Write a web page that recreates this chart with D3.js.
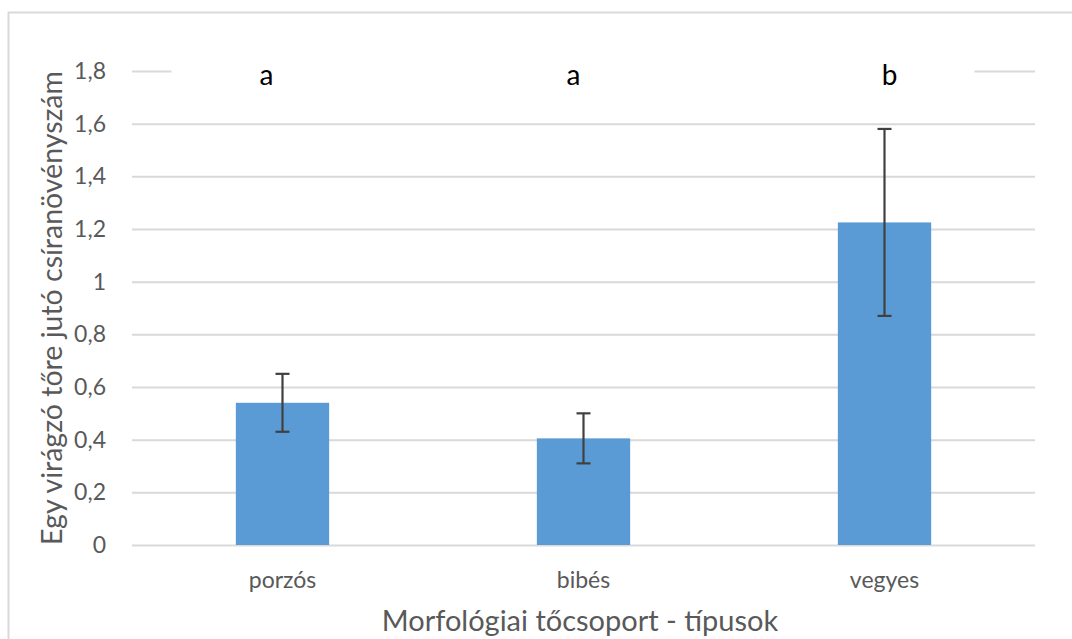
<!DOCTYPE html>
<html>
<head>
<meta charset="utf-8">
<script src="https://cdn.jsdelivr.net/npm/d3@7"></script>
<style>
  body { margin: 0; background: #fff; }
  text { font-family: Lato, "Open Sans", sans-serif; }
</style>
</head>
<body>
<div id="chart"></div>
<script>
const categories = ["porzós", "bibés", "vegyes"];
const means = [0.54, 0.405, 1.225];
const errors = [0.11, 0.095, 0.355];
const groupLetters = ["a", "a", "b"];
const yTicks = [0, 0.2, 0.4, 0.6, 0.8, 1, 1.2, 1.4, 1.6, 1.8];

const W = 1072, H = 639;
const margin = {top: 71, right: 37, bottom: 94, left: 132};

const svg = d3.select("#chart").append("svg")
  .attr("width", W)
  .attr("height", H);

// chart area frame (only top and left edges are visible in the crop)
svg.append("rect")
  .attr("x", 8.5).attr("y", 12.5)
  .attr("width", W + 20).attr("height", H + 20)
  .attr("fill", "#fff")
  .attr("stroke", "#d9d9d9")
  .attr("stroke-width", 2);

const x = d3.scaleBand()
  .domain(categories)
  .range([margin.left, W - margin.right])
  .paddingInner(0.69)
  .paddingOuter(0.345);

const y = d3.scaleLinear()
  .domain([0, 1.8])
  .range([H - margin.bottom, margin.top]);

const fmt = d => String(d).replace(".", ",");

// gridlines
svg.append("g")
  .attr("class", "grid")
  .attr("transform", "translate(" + margin.left + ",0)")
  .call(d3.axisRight(y).tickValues(yTicks).tickSize(W - margin.right - margin.left).tickFormat(""))
  .call(g => g.select(".domain").remove())
  .call(g => g.selectAll(".tick line").attr("stroke", "#d9d9d9").attr("stroke-width", 2));

// y tick labels
svg.append("g")
  .attr("transform", "translate(" + margin.left + ",0)")
  .call(d3.axisLeft(y).tickValues(yTicks).tickSize(0).tickPadding(26).tickFormat(fmt))
  .call(g => g.select(".domain").remove())
  .call(g => g.selectAll("text")
    .attr("fill", "#595959")
    .style("font-size", "23px")
    .style("font-family", "Lato, sans-serif"));

// bars
svg.append("g")
  .selectAll("rect")
  .data(categories)
  .enter()
  .append("rect")
  .attr("x", d => x(d))
  .attr("y", (d, i) => y(means[i]))
  .attr("width", x.bandwidth())
  .attr("height", (d, i) => y(0) - y(means[i]))
  .attr("fill", "#5b9bd5");

// error bars
const eb = svg.append("g")
  .attr("stroke", "#404040")
  .attr("stroke-width", 2.2);
categories.forEach((c, i) => {
  const cx = x(c) + x.bandwidth() / 2;
  const hi = y(means[i] + errors[i]), lo = y(means[i] - errors[i]);
  eb.append("line").attr("x1", cx).attr("x2", cx).attr("y1", hi).attr("y2", lo);
  eb.append("line").attr("x1", cx - 7).attr("x2", cx + 7).attr("y1", hi).attr("y2", hi);
  eb.append("line").attr("x1", cx - 7).attr("x2", cx + 7).attr("y1", lo).attr("y2", lo);
});

// significance letters on a white text box covering the top gridline
const letterX = categories.map((c, i) => x(c) + x.bandwidth() / 2 + [-16, -10, 5][i]);
svg.append("rect")
  .attr("x", letterX[0] - 95)
  .attr("y", y(1.8) - 14)
  .attr("width", letterX[2] + 85 - (letterX[0] - 95))
  .attr("height", 30)
  .attr("fill", "#fff");
svg.append("g")
  .selectAll("text")
  .data(groupLetters)
  .enter()
  .append("text")
  .attr("x", (d, i) => letterX[i])
  .attr("y", y(1.8) + 14)
  .attr("text-anchor", "middle")
  .attr("fill", "#000")
  .style("font-size", "28px")
  .text(d => d);

// x labels
svg.append("g")
  .attr("transform", "translate(0," + (H - margin.bottom) + ")")
  .call(d3.axisBottom(x).tickSize(0).tickPadding(27))
  .call(g => g.select(".domain").remove())
  .call(g => g.selectAll("text")
    .attr("fill", "#595959")
    .style("font-size", "23px")
    .style("font-family", "Lato, sans-serif"));

// axis titles
svg.append("text")
  .attr("x", 580)
  .attr("y", 631)
  .attr("text-anchor", "middle")
  .attr("fill", "#595959")
  .style("font-size", "29px")
  .text("Morfológiai tőcsoport - típusok");

svg.append("text")
  .attr("transform", "translate(62," + 308 + ") rotate(-90)")
  .attr("text-anchor", "middle")
  .attr("fill", "#595959")
  .style("font-size", "28.5px")
  .text("Egy  virágzó tőre jutó csíranövényszám");
</script>
</body>
</html>
